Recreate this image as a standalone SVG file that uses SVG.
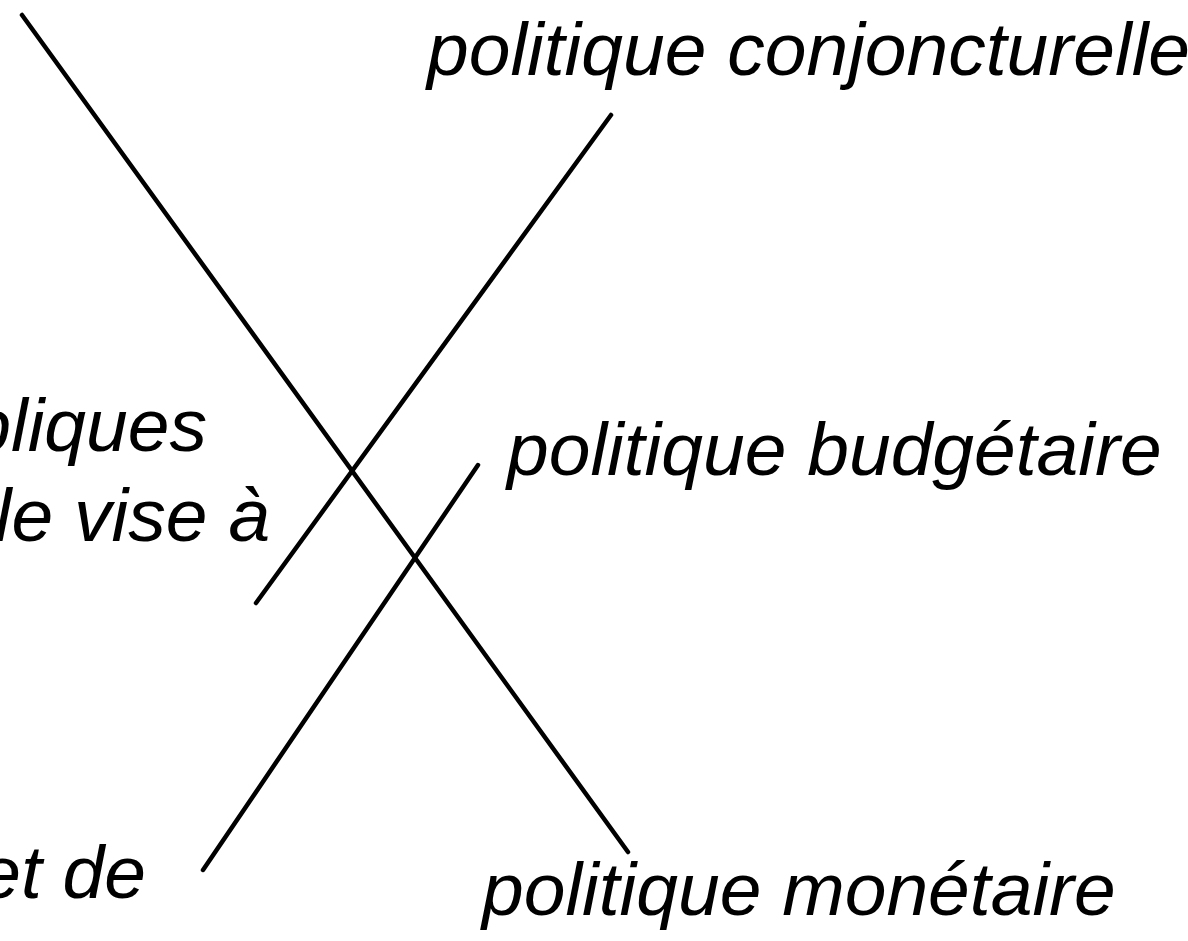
<svg xmlns="http://www.w3.org/2000/svg" width="1188" height="941" viewBox="0 0 1188 941">
<style>
.t{font-family:"Liberation Sans",Arial,sans-serif;font-style:italic;font-size:75px;fill:#000}
.c{stroke:#000;stroke-width:4.5;stroke-linecap:round;fill:none}
</style>
<rect width="1188" height="941" fill="#fff"/>
<g id="connectors">
<line class="c" x1="22" y1="15" x2="628" y2="852"/>
<line class="c" x1="611" y1="115" x2="256" y2="603"/>
<line class="c" x1="478" y1="465" x2="203" y2="870"/>
</g>
<g id="node-conjoncturelle"><text class="t" x="427" y="75">politique conjoncturelle</text></g>
<g id="node-budgetaire"><text class="t" x="507" y="475">politique budgétaire</text></g>
<g id="node-monetaire"><text class="t" x="482" y="915">politique monétaire</text></g>
<g id="node-left1"><text class="t" x="207" y="451" text-anchor="end">bliques</text></g>
<g id="node-left2"><text class="t" x="270" y="541" text-anchor="end">le vise à</text></g>
<g id="node-left3"><text class="t" x="146" y="898" text-anchor="end">et de</text></g>
</svg>
